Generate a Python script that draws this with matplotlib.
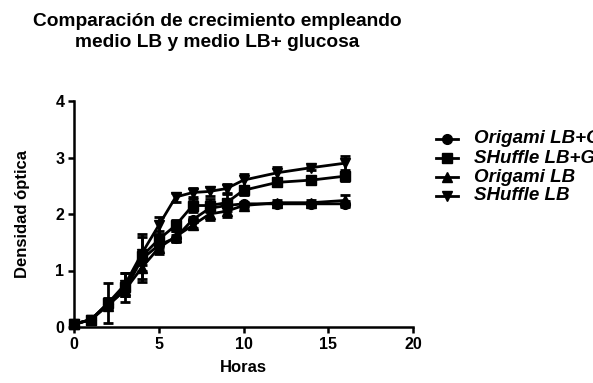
import numpy as np
import matplotlib
matplotlib.use("Agg")
import matplotlib.pyplot as plt

plt.rcParams["font.family"] = ["Liberation Sans", "DejaVu Sans"]
plt.rcParams["font.weight"] = "bold"

# Growth curves (optical density vs hours)
horas = [0, 1, 2, 3, 4, 5, 6, 7, 8, 9, 10, 12, 14, 16]

origami_lbg = [0.05, 0.13, 0.40, 0.65, 1.20, 1.45, 1.58, 1.90, 2.10, 2.15, 2.18, 2.18, 2.18, 2.18]
shuffle_lbg = [0.05, 0.13, 0.42, 0.70, 1.25, 1.55, 1.80, 2.15, 2.15, 2.20, 2.42, 2.56, 2.60, 2.67]
origami_lb = [0.05, 0.13, 0.38, 0.65, 1.05, 1.40, 1.60, 1.80, 2.00, 2.05, 2.15, 2.20, 2.20, 2.24]
shuffle_lb = [0.05, 0.13, 0.42, 0.75, 1.30, 1.80, 2.30, 2.38, 2.40, 2.45, 2.60, 2.73, 2.82, 2.90]

err_origami_lbg = [0.02, 0.02, 0.05, 0.10, 0.10, 0.10, 0.05, 0.05, 0.05, 0.05, 0.03, 0.03, 0.03, 0.05]
err_shuffle_lbg = [0.02, 0.02, 0.35, 0.25, 0.40, 0.15, 0.10, 0.12, 0.12, 0.15, 0.08, 0.05, 0.05, 0.08]
err_origami_lb = [0.02, 0.02, 0.05, 0.10, 0.25, 0.10, 0.10, 0.05, 0.10, 0.10, 0.05, 0.05, 0.05, 0.10]
err_shuffle_lb = [0.02, 0.02, 0.10, 0.20, 0.30, 0.15, 0.08, 0.08, 0.08, 0.08, 0.10, 0.10, 0.05, 0.12]

series = [
    ("Origami LB+G", origami_lbg, err_origami_lbg, "o"),
    ("SHuffle LB+G", shuffle_lbg, err_shuffle_lbg, "s"),
    ("Origami LB", origami_lb, err_origami_lb, "^"),
    ("SHuffle LB", shuffle_lb, err_shuffle_lb, "v"),
]

fig = plt.figure(figsize=(5.93, 3.83), dpi=100)
ax = fig.add_axes([74 / 593, 56 / 383, 339 / 593, 226 / 383])

for name, vals, err, mk in series:
    ax.errorbar(horas, vals, yerr=err, color="black", marker=mk, markersize=7,
                linewidth=2, elinewidth=2, capsize=3.5, capthick=2,
                clip_on=False, label=name)

ax.set_xlim(0, 20)
ax.set_ylim(0, 4)
ax.set_xticks([0, 5, 10, 15, 20])
ax.set_yticks([0, 1, 2, 3, 4])
for side in ["top", "right"]:
    ax.spines[side].set_visible(False)
for side in ["left", "bottom"]:
    ax.spines[side].set_linewidth(1.8)
ax.tick_params(direction="out", length=4, width=1.8, labelsize=11.5, pad=3)
for lbl in ax.get_xticklabels() + ax.get_yticklabels():
    lbl.set_fontweight("bold")

ax.set_xlabel("Horas", fontsize=12, fontweight="bold", labelpad=6)
ax.set_ylabel("Densidad óptica", fontsize=12, fontweight="bold", labelpad=18)

fig.text(217 / 593, 1 - 32 / 383, "Comparación de crecimiento empleando\nmedio LB y medio LB+ glucosa",
         ha="center", va="center", fontsize=13.8, fontweight="bold", linespacing=1.3)

# legend drawn by hand so it can run off the right edge
for i, (name, vals, err, mk) in enumerate(series):
    y = 1 - (139 + 19 * i) / 383
    fig.add_artist(plt.Line2D([436 / 593, 458 / 593], [y, y], color="black", linewidth=2,
                              transform=fig.transFigure))
    fig.add_artist(plt.Line2D([447 / 593], [y], color="black", marker=mk, markersize=7,
                              transform=fig.transFigure))
    fig.text(474 / 593, y, name, ha="left", va="center", fontsize=13.5,
             fontweight="bold", fontstyle="italic")

fig.savefig("out.png", dpi=100)
